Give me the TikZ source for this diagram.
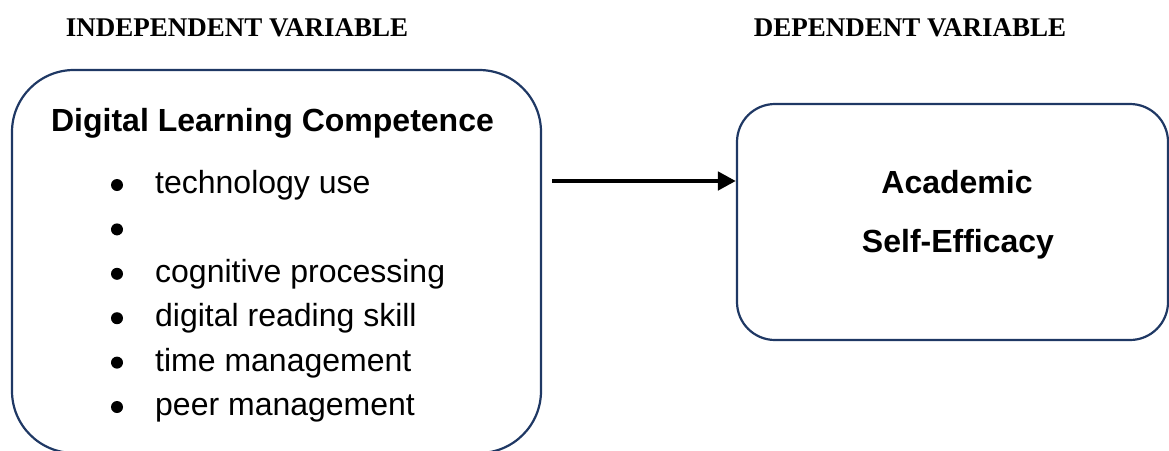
\documentclass[tikz,border=0pt]{standalone}
\usepackage{fontspec}
\setmainfont{Liberation Sans}
\newfontfamily\hdrfont{Liberation Serif}
\usetikzlibrary{arrows.meta}
\definecolor{navy}{HTML}{1F3864}
\begin{document}
\begin{tikzpicture}[x=1pt,y=-1pt,
  box/.style={draw=navy, line width=2.2pt, rectangle, inner sep=0pt},
  hdr/.style={anchor=base, inner sep=0pt, font=\hdrfont\bfseries\fontsize{27}{30}\selectfont},
  title/.style={anchor=base, inner sep=0pt, font=\bfseries\fontsize{32}{38}\selectfont},
  item/.style={anchor=base west, inner sep=0pt, font=\fontsize{32}{38}\selectfont},
  dot/.style={circle, fill=black, inner sep=0pt, minimum size=12pt},
  link/.style={line width=4.8pt, -{Triangle[length=18pt,width=18pt]}}]
\useasboundingbox (0,0) rectangle (1169,450);
% headers
\node[hdr] (h1) at (237,36) {INDEPENDENT VARIABLE};
\node[hdr] (h2) at (910,36) {DEPENDENT VARIABLE};
% boxes
\node[box, rounded corners=62pt, minimum width=529pt, minimum height=383pt] (ind) at (276.5,261.5) {};
\node[box, rounded corners=38pt, minimum width=431pt, minimum height=236pt] (dep) at (952.5,222) {};
% left content
\node[title] (t1) at (272.5,131) {Digital Learning Competence};
\node[dot] (b1) at (117,185) {};
\node[item] (i1) at (155,193.5) {technology use};
\node[dot] (b2) at (117,229.4) {};
\node[dot] (b3) at (117,273.8) {};
\node[item] (i3) at (155,282.3) {cognitive processing};
\node[dot] (b4) at (117,318.2) {};
\node[item] (i4) at (155,326.7) {digital reading skill};
\node[dot] (b5) at (117,362.6) {};
\node[item] (i5) at (155,371.1) {time management};
\node[dot] (b6) at (117,407) {};
\node[item] (i6) at (155,415.5) {peer management};
% right content
\node[title] (t2) at (957,193) {Academic};
\node[title] (t3) at (958,252) {Self-Efficacy};
% arrow
\coordinate (a0) at (552,181);
\draw[link] (a0) -- (dep.west |- a0);
\end{tikzpicture}
\end{document}
